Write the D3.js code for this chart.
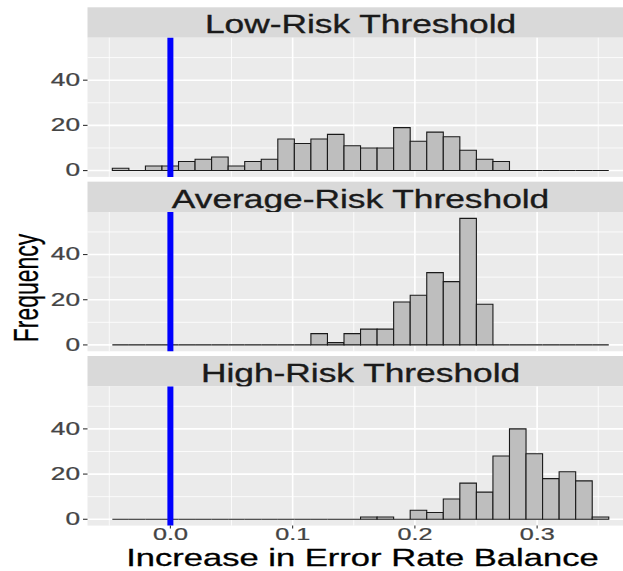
<!DOCTYPE html>
<html>
<head>
<meta charset="utf-8">
<script src="https://cdn.jsdelivr.net/npm/d3@7"></script>
<style>
  html, body { margin: 0; padding: 0; background: #ffffff; }
  svg { display: block; }
  text { font-family: "Liberation Sans", Arial, sans-serif; }
</style>
</head>
<body>
<svg id="chart" width="623" height="571"></svg>
<script>
// ---------- data ----------
const panels = ["Low-Risk Threshold", "Average-Risk Threshold", "High-Risk Threshold"];
const binMin = -0.0475;      // left edge of the first histogram bin
const binWidth = 0.013537;   // histogram bin width (30 bins)
const countsLow     = [1,0,2,2,4,5,6,2,4,5,14,12,14,16,11,10,10,19,13,17,15,9,5,4,0,0,0,0,0,0];
const countsAverage = [0,0,0,0,0,0,0,0,0,0,0,0,5,1,5,7,7,19,22,32,28,56,18,0,0,0,0,0,0,0];
const countsHigh    = [0,0,0,0,0,0,0,0,0,0,0,0,0,0,0,1,1,0,4,3,9,16,12,28,40,29,18,21,17,1];
const seriesCounts = [countsLow, countsAverage, countsHigh];
const referenceLine = 0.0;
const xTicks = [0.0, 0.1, 0.2, 0.3];
const xMinor = [-0.05, 0.05, 0.15, 0.25, 0.35];
const yTicks = [0, 20, 40];
const yMinor = [10, 30, 50];
const xTitle = "Increase in Error Rate Balance";
const yTitle = "Frequency";

// ---------- layout ----------
const svg = d3.select("#chart");
const SX = 1.38;               // horizontal text stretch seen in the reference
const SXT = 1.5;               // stretch for tick labels
const pitch = 174.35;
const stripTop0 = 7.3, stripH = 30.4, plotH = 139.2;
const nb = countsLow.length;
const binEdges = d3.range(nb + 1).map(i => binMin + i * binWidth);
const xLo = binEdges[0], xHi = binEdges[nb];
const xPad = (xHi - xLo) * 0.05;
const yMax = d3.max(seriesCounts.flat());
const yPad = yMax * 0.05;

const x = d3.scaleLinear().domain([xLo - xPad, xHi + xPad]).range([87.5, 633.6]);
const plotLeft = x.range()[0], plotRight = x.range()[1];

panels.forEach((name, i) => {
  const sTop = stripTop0 + i * pitch;
  const pTop = sTop + stripH;
  const pBot = pTop + plotH;
  const y = d3.scaleLinear().domain([-yPad, yMax + yPad]).range([pBot, pTop]);
  const g = svg.append("g");

  // strip
  g.append("rect").attr("x", plotLeft).attr("y", sTop).attr("width", plotRight - plotLeft)
    .attr("height", stripH).attr("fill", "#D9D9D9");
  g.append("text").attr("transform", `translate(${(plotLeft + plotRight) / 2},${sTop + 26}) scale(${SX},1)`)
    .attr("text-anchor", "middle").attr("font-size", 25.6).attr("fill", "#1A1A1A")
    .attr("stroke", "#1A1A1A").attr("stroke-width", 0.35).text(name);

  // panel background
  g.append("rect").attr("x", plotLeft).attr("y", pTop).attr("width", plotRight - plotLeft)
    .attr("height", plotH).attr("fill", "#EBEBEB");

  // grid
  g.selectAll(".ym").data(yMinor).join("line")
    .attr("x1", plotLeft).attr("x2", plotRight).attr("y1", d => y(d)).attr("y2", d => y(d))
    .attr("stroke", "#ffffff").attr("stroke-width", 0.8);
  g.selectAll(".xm").data(xMinor).join("line")
    .attr("x1", d => x(d)).attr("x2", d => x(d)).attr("y1", pTop).attr("y2", pBot)
    .attr("stroke", "#ffffff").attr("stroke-width", 0.8);
  g.selectAll(".yM").data(yTicks).join("line")
    .attr("x1", plotLeft).attr("x2", plotRight).attr("y1", d => y(d)).attr("y2", d => y(d))
    .attr("stroke", "#ffffff").attr("stroke-width", 1.6);
  g.selectAll(".xM").data(xTicks).join("line")
    .attr("x1", d => x(d)).attr("x2", d => x(d)).attr("y1", pTop).attr("y2", pBot)
    .attr("stroke", "#ffffff").attr("stroke-width", 1.6);

  // bars
  const bars = seriesCounts[i].map((c, k) => ({ x0: binEdges[k], x1: binEdges[k + 1], c }));
  g.selectAll(".bar").data(bars).join("path")
    .attr("d", d => `M${x(d.x0)},${y(0)}L${x(d.x0)},${y(d.c)}L${x(d.x1)},${y(d.c)}L${x(d.x1)},${y(0)}Z`)
    .attr("fill", "#BEBEBE").attr("stroke", "#1a1a1a").attr("stroke-width", 1.1);

  // reference line
  g.append("line").attr("x1", x(referenceLine)).attr("x2", x(referenceLine))
    .attr("y1", pTop).attr("y2", pBot).attr("stroke", "#0000FF").attr("stroke-width", 6);

  // y axis
  const ya = g.append("g");
  yTicks.forEach(t => {
    ya.append("line").attr("x1", plotLeft - 4.5).attr("x2", plotLeft).attr("y1", y(t)).attr("y2", y(t))
      .attr("stroke", "#333333").attr("stroke-width", 1.1);
    ya.append("text").attr("transform", `translate(${plotLeft - 7.5},${y(t)}) scale(${SXT},1)`)
      .attr("text-anchor", "end").attr("dominant-baseline", "central")
      .attr("font-size", 17.5).attr("fill", "#444444").attr("stroke", "#444444").attr("stroke-width", 0.25)
      .text(d3.format("d")(t));
  });

  // x axis on bottom panel
  if (i === panels.length - 1) {
    xTicks.forEach(t => {
      g.append("line").attr("x1", x(t)).attr("x2", x(t)).attr("y1", pBot).attr("y2", pBot + 3)
        .attr("stroke", "#333333").attr("stroke-width", 1.1);
      g.append("text").attr("transform", `translate(${x(t)},${pBot + 14.8}) scale(${SXT},1)`)
        .attr("text-anchor", "middle").attr("font-size", 16.8).attr("fill", "#444444")
        .attr("stroke", "#444444").attr("stroke-width", 0.25)
        .text(d3.format(".1f")(t));
    });
  }
});

// axis titles
svg.append("text").attr("transform", `translate(362.4,565.8) scale(1.44,1)`)
  .attr("text-anchor", "middle").attr("font-size", 24).attr("fill", "#000000")
  .attr("stroke", "#000000").attr("stroke-width", 0.3).text(xTitle);
svg.append("text").attr("transform", `translate(38,288) scale(1.5,1) rotate(-90)`)
  .attr("text-anchor", "middle").attr("font-size", 23).attr("fill", "#000000")
  .attr("stroke", "#000000").attr("stroke-width", 0.2).text(yTitle);
</script>
</body>
</html>
